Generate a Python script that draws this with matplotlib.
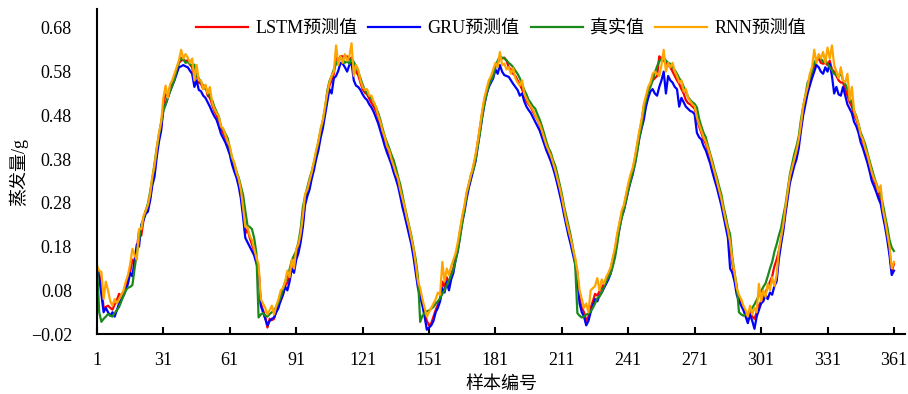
import numpy as np
import matplotlib
matplotlib.use("Agg")
import matplotlib.pyplot as plt

plt.rcParams["font.family"] = ["Liberation Serif", "Noto Sans CJK SC", "DejaVu Sans"]
plt.rcParams["axes.unicode_minus"] = True

# sample index 1..361
sample_no = np.arange(1, 362)

true_val = [
    0.140, 0.030, 0.008, 0.015, 0.020, 0.026, 0.022, 0.020, 0.028, 0.035,
    0.042, 0.055, 0.068, 0.080, 0.086, 0.088, 0.092, 0.130, 0.165, 0.195,
    0.225, 0.245, 0.262, 0.278, 0.305, 0.335, 0.370, 0.405, 0.435, 0.465,
    0.490, 0.505, 0.520, 0.535, 0.548, 0.562, 0.585, 0.602, 0.612, 0.608,
    0.600, 0.602, 0.598, 0.592, 0.596, 0.570, 0.565, 0.555, 0.548, 0.540,
    0.535, 0.522, 0.515, 0.500, 0.488, 0.478, 0.455, 0.448, 0.438, 0.428,
    0.405, 0.382, 0.370, 0.352, 0.338, 0.318, 0.298, 0.262, 0.228, 0.225,
    0.220, 0.200, 0.165, 0.018, 0.025, 0.028, 0.022, 0.020, 0.026, 0.030,
    0.035, 0.042, 0.052, 0.065, 0.082, 0.100, 0.112, 0.128, 0.148, 0.160,
    0.170, 0.190, 0.220, 0.270, 0.295, 0.315, 0.335, 0.352, 0.372, 0.395,
    0.420, 0.445, 0.468, 0.495, 0.535, 0.558, 0.570, 0.585, 0.598, 0.605,
    0.612, 0.608, 0.600, 0.604, 0.598, 0.610, 0.602, 0.592, 0.580, 0.565,
    0.550, 0.538, 0.530, 0.525, 0.518, 0.510, 0.498, 0.486, 0.470, 0.450,
    0.432, 0.418, 0.405, 0.390, 0.378, 0.360, 0.340, 0.322, 0.298, 0.272,
    0.250, 0.228, 0.205, 0.178, 0.150, 0.110, 0.008, 0.022, 0.028, 0.032,
    0.034, 0.038, 0.042, 0.050, 0.055, 0.062, 0.072, 0.080, 0.092, 0.102,
    0.115, 0.128, 0.148, 0.172, 0.200, 0.235, 0.265, 0.300, 0.322, 0.345,
    0.355, 0.378, 0.410, 0.440, 0.478, 0.505, 0.530, 0.548, 0.560, 0.570,
    0.590, 0.605, 0.615, 0.612, 0.610, 0.606, 0.600, 0.596, 0.590, 0.582,
    0.575, 0.565, 0.552, 0.538, 0.528, 0.515, 0.508, 0.500, 0.495, 0.482,
    0.470, 0.455, 0.438, 0.420, 0.405, 0.395, 0.378, 0.365, 0.345, 0.322,
    0.300, 0.272, 0.250, 0.228, 0.205, 0.178, 0.140, 0.028, 0.022, 0.018,
    0.020, 0.025, 0.026, 0.032, 0.040, 0.050, 0.062, 0.066, 0.075, 0.088,
    0.100, 0.110, 0.118, 0.135, 0.155, 0.185, 0.222, 0.245, 0.265, 0.285,
    0.310, 0.330, 0.350, 0.368, 0.395, 0.430, 0.455, 0.490, 0.515, 0.535,
    0.545, 0.560, 0.578, 0.592, 0.604, 0.608, 0.612, 0.605, 0.600, 0.598,
    0.590, 0.583, 0.575, 0.565, 0.558, 0.545, 0.535, 0.522, 0.515, 0.510,
    0.506, 0.498, 0.472, 0.455, 0.440, 0.430, 0.410, 0.392, 0.375, 0.355,
    0.338, 0.318, 0.300, 0.272, 0.250, 0.225, 0.208, 0.155, 0.120, 0.090,
    0.030, 0.025, 0.022, 0.024, 0.028, 0.033, 0.040, 0.048, 0.058, 0.068,
    0.078, 0.088, 0.096, 0.112, 0.130, 0.145, 0.168, 0.185, 0.205, 0.222,
    0.250, 0.275, 0.310, 0.345, 0.368, 0.392, 0.410, 0.432, 0.470, 0.500,
    0.525, 0.555, 0.565, 0.580, 0.600, 0.608, 0.615, 0.610, 0.602, 0.606,
    0.598, 0.590, 0.583, 0.575, 0.572, 0.568, 0.578, 0.560, 0.552, 0.540,
    0.520, 0.508, 0.490, 0.478, 0.460, 0.440, 0.428, 0.414, 0.395, 0.376,
    0.358, 0.340, 0.325, 0.310, 0.300, 0.277, 0.250, 0.225, 0.195, 0.178,
    0.170,
]

lstm_pred = [
    0.130, 0.118, 0.090, 0.040, 0.042, 0.045, 0.040, 0.036, 0.048, 0.058,
    0.072, 0.068, 0.075, 0.090, 0.105, 0.122, 0.150, 0.140, 0.175, 0.215,
    0.205, 0.240, 0.262, 0.270, 0.290, 0.330, 0.350, 0.395, 0.430, 0.455,
    0.505, 0.528, 0.525, 0.545, 0.555, 0.570, 0.580, 0.600, 0.605, 0.608,
    0.604, 0.606, 0.596, 0.590, 0.560, 0.575, 0.555, 0.552, 0.540, 0.548,
    0.525, 0.520, 0.505, 0.490, 0.480, 0.470, 0.448, 0.440, 0.428, 0.418,
    0.400, 0.378, 0.362, 0.345, 0.330, 0.300, 0.260, 0.210, 0.220, 0.200,
    0.185, 0.170, 0.150, 0.130, 0.050, 0.035, 0.020, -0.005, 0.015, 0.012,
    0.015, 0.035, 0.050, 0.055, 0.070, 0.090, 0.098, 0.115, 0.135, 0.140,
    0.162, 0.175, 0.200, 0.235, 0.290, 0.305, 0.320, 0.345, 0.365, 0.390,
    0.410, 0.440, 0.458, 0.490, 0.520, 0.548, 0.560, 0.575, 0.612, 0.605,
    0.615, 0.615, 0.612, 0.615, 0.608, 0.612, 0.590, 0.580, 0.572, 0.555,
    0.540, 0.532, 0.528, 0.518, 0.508, 0.500, 0.490, 0.475, 0.458, 0.440,
    0.422, 0.408, 0.395, 0.380, 0.362, 0.345, 0.330, 0.305, 0.280, 0.262,
    0.238, 0.215, 0.195, 0.168, 0.130, 0.095, 0.075, 0.055, 0.030, 0.010,
    0.000, 0.005, 0.020, 0.035, 0.048, 0.060, 0.100, 0.088, 0.110, 0.095,
    0.118, 0.130, 0.160, 0.180, 0.215, 0.245, 0.268, 0.300, 0.320, 0.340,
    0.362, 0.385, 0.418, 0.450, 0.485, 0.515, 0.535, 0.555, 0.565, 0.580,
    0.595, 0.600, 0.612, 0.610, 0.612, 0.605, 0.590, 0.585, 0.575, 0.570,
    0.560, 0.550, 0.540, 0.525, 0.512, 0.505, 0.498, 0.488, 0.478, 0.470,
    0.458, 0.440, 0.425, 0.410, 0.398, 0.385, 0.370, 0.352, 0.332, 0.310,
    0.288, 0.262, 0.238, 0.215, 0.195, 0.170, 0.150, 0.120, 0.060, 0.040,
    0.030, 0.010, 0.020, 0.040, 0.055, 0.072, 0.068, 0.078, 0.085, 0.095,
    0.105, 0.115, 0.128, 0.150, 0.172, 0.205, 0.230, 0.255, 0.270, 0.295,
    0.318, 0.338, 0.355, 0.380, 0.410, 0.440, 0.465, 0.500, 0.520, 0.540,
    0.550, 0.560, 0.565, 0.570, 0.615, 0.610, 0.605, 0.600, 0.595, 0.590,
    0.580, 0.570, 0.560, 0.552, 0.540, 0.530, 0.515, 0.508, 0.505, 0.500,
    0.495, 0.470, 0.455, 0.440, 0.425, 0.415, 0.400, 0.382, 0.362, 0.345,
    0.325, 0.305, 0.285, 0.260, 0.235, 0.212, 0.180, 0.140, 0.110, 0.080,
    0.060, 0.050, 0.040, 0.025, 0.010, 0.030, 0.020, 0.015, 0.030, 0.045,
    0.055, 0.062, 0.075, 0.088, 0.100, 0.112, 0.135, 0.150, 0.170, 0.195,
    0.225, 0.262, 0.300, 0.335, 0.355, 0.375, 0.395, 0.420, 0.455, 0.490,
    0.515, 0.540, 0.558, 0.575, 0.590, 0.605, 0.610, 0.600, 0.598, 0.600,
    0.595, 0.605, 0.585, 0.580, 0.570, 0.560, 0.555, 0.555, 0.540, 0.525,
    0.510, 0.500, 0.480, 0.470, 0.455, 0.430, 0.420, 0.400, 0.385, 0.365,
    0.345, 0.330, 0.318, 0.300, 0.285, 0.262, 0.232, 0.205, 0.170, 0.125,
    0.140,
]

gru_pred = [
    0.125, 0.110, 0.070, 0.030, 0.040, 0.030, 0.022, 0.030, 0.020, 0.035,
    0.050, 0.060, 0.068, 0.080, 0.095, 0.120, 0.112, 0.150, 0.185, 0.180,
    0.230, 0.240, 0.255, 0.260, 0.285, 0.320, 0.340, 0.385, 0.420, 0.445,
    0.495, 0.505, 0.520, 0.535, 0.548, 0.560, 0.575, 0.590, 0.592, 0.595,
    0.592, 0.590, 0.582, 0.575, 0.545, 0.560, 0.538, 0.535, 0.525, 0.520,
    0.510, 0.500, 0.488, 0.478, 0.470, 0.455, 0.438, 0.428, 0.418, 0.405,
    0.390, 0.368, 0.352, 0.338, 0.318, 0.290, 0.248, 0.200, 0.190, 0.180,
    0.170, 0.160, 0.142, 0.125, 0.045, 0.030, 0.015, 0.000, 0.010, 0.015,
    0.018, 0.030, 0.040, 0.058, 0.070, 0.088, 0.080, 0.100, 0.130, 0.120,
    0.150, 0.165, 0.190, 0.225, 0.275, 0.295, 0.310, 0.335, 0.355, 0.380,
    0.400, 0.428, 0.450, 0.480, 0.510, 0.540, 0.530, 0.565, 0.570, 0.582,
    0.600, 0.598, 0.590, 0.580, 0.595, 0.600, 0.560, 0.548, 0.545, 0.538,
    0.528, 0.520, 0.515, 0.505, 0.498, 0.488, 0.475, 0.462, 0.445, 0.428,
    0.410, 0.395, 0.382, 0.368, 0.350, 0.335, 0.318, 0.295, 0.270, 0.250,
    0.228, 0.205, 0.185, 0.155, 0.120, 0.085, 0.065, 0.045, 0.020, -0.010,
    -0.005, 0.000, 0.010, 0.030, 0.040, 0.055, 0.085, 0.075, 0.100, 0.080,
    0.105, 0.120, 0.150, 0.170, 0.205, 0.235, 0.260, 0.290, 0.315, 0.335,
    0.355, 0.375, 0.408, 0.440, 0.475, 0.505, 0.528, 0.545, 0.555, 0.565,
    0.585, 0.575, 0.595, 0.580, 0.572, 0.570, 0.568, 0.560, 0.552, 0.545,
    0.538, 0.525, 0.530, 0.512, 0.500, 0.492, 0.485, 0.475, 0.465, 0.455,
    0.445, 0.430, 0.415, 0.400, 0.388, 0.375, 0.360, 0.342, 0.322, 0.300,
    0.278, 0.252, 0.228, 0.205, 0.185, 0.162, 0.140, 0.110, 0.050, 0.030,
    0.020, 0.000, 0.010, 0.030, 0.045, 0.060, 0.055, 0.068, 0.075, 0.085,
    0.095, 0.105, 0.118, 0.140, 0.162, 0.195, 0.220, 0.248, 0.262, 0.285,
    0.308, 0.328, 0.345, 0.370, 0.400, 0.428, 0.450, 0.470, 0.500, 0.520,
    0.535, 0.540, 0.530, 0.525, 0.545, 0.560, 0.580, 0.530, 0.570, 0.560,
    0.555, 0.545, 0.540, 0.500, 0.520, 0.510, 0.500, 0.495, 0.490, 0.488,
    0.482, 0.440, 0.430, 0.425, 0.410, 0.400, 0.385, 0.370, 0.350, 0.332,
    0.315, 0.295, 0.275, 0.250, 0.225, 0.200, 0.130, 0.120, 0.100, 0.070,
    0.055, 0.045, 0.035, 0.020, 0.005, 0.025, 0.010, -0.008, 0.020, 0.035,
    0.050, 0.055, 0.070, 0.060, 0.075, 0.070, 0.090, 0.100, 0.150, 0.185,
    0.215, 0.255, 0.290, 0.325, 0.345, 0.365, 0.380, 0.405, 0.445, 0.480,
    0.505, 0.530, 0.548, 0.565, 0.580, 0.595, 0.590, 0.580, 0.575, 0.590,
    0.580, 0.598, 0.570, 0.530, 0.545, 0.528, 0.525, 0.545, 0.525, 0.505,
    0.495, 0.485, 0.465, 0.455, 0.440, 0.418, 0.405, 0.388, 0.372, 0.352,
    0.330, 0.318, 0.305, 0.290, 0.278, 0.250, 0.225, 0.195, 0.160, 0.115,
    0.125,
]

rnn_pred = [
    0.135, 0.125, 0.122, 0.060, 0.100, 0.080, 0.055, 0.045, 0.060, 0.050,
    0.060, 0.070, 0.080, 0.100, 0.115, 0.140, 0.175, 0.160, 0.150, 0.220,
    0.220, 0.250, 0.262, 0.275, 0.300, 0.340, 0.365, 0.405, 0.440, 0.465,
    0.520, 0.548, 0.520, 0.550, 0.560, 0.575, 0.590, 0.605, 0.630, 0.610,
    0.620, 0.612, 0.600, 0.610, 0.560, 0.595, 0.560, 0.560, 0.540, 0.550,
    0.530, 0.545, 0.510, 0.495, 0.485, 0.478, 0.455, 0.450, 0.435, 0.420,
    0.410, 0.385, 0.372, 0.350, 0.335, 0.310, 0.270, 0.225, 0.225, 0.205,
    0.195, 0.175, 0.155, 0.140, 0.060, 0.050, 0.040, 0.025, 0.035, 0.045,
    0.025, 0.045, 0.060, 0.080, 0.085, 0.100, 0.125, 0.110, 0.150, 0.130,
    0.175, 0.185, 0.210, 0.250, 0.300, 0.310, 0.330, 0.350, 0.375, 0.400,
    0.420, 0.450, 0.468, 0.500, 0.530, 0.555, 0.570, 0.580, 0.640, 0.595,
    0.615, 0.600, 0.620, 0.605, 0.615, 0.645, 0.570, 0.595, 0.585, 0.560,
    0.545, 0.538, 0.540, 0.525, 0.525, 0.510, 0.500, 0.480, 0.465, 0.445,
    0.430, 0.410, 0.400, 0.380, 0.365, 0.348, 0.335, 0.310, 0.290, 0.270,
    0.245, 0.225, 0.200, 0.175, 0.140, 0.100, 0.085, 0.060, 0.040, 0.020,
    0.030, 0.040, 0.050, 0.060, 0.075, 0.070, 0.145, 0.100, 0.130, 0.115,
    0.135, 0.150, 0.165, 0.190, 0.220, 0.250, 0.275, 0.305, 0.325, 0.345,
    0.365, 0.390, 0.420, 0.455, 0.490, 0.520, 0.540, 0.560, 0.570, 0.585,
    0.600, 0.590, 0.625, 0.595, 0.598, 0.585, 0.590, 0.575, 0.588, 0.565,
    0.555, 0.548, 0.560, 0.530, 0.518, 0.508, 0.500, 0.492, 0.480, 0.470,
    0.460, 0.445, 0.428, 0.412, 0.400, 0.388, 0.372, 0.355, 0.335, 0.315,
    0.292, 0.265, 0.240, 0.218, 0.198, 0.175, 0.155, 0.125, 0.080, 0.060,
    0.040, 0.050, 0.030, 0.080, 0.085, 0.090, 0.108, 0.080, 0.105, 0.095,
    0.110, 0.120, 0.132, 0.155, 0.178, 0.210, 0.235, 0.262, 0.275, 0.300,
    0.325, 0.345, 0.360, 0.385, 0.415, 0.445, 0.470, 0.505, 0.525, 0.545,
    0.555, 0.575, 0.580, 0.575, 0.570, 0.595, 0.630, 0.580, 0.600, 0.590,
    0.600, 0.580, 0.570, 0.555, 0.560, 0.535, 0.540, 0.520, 0.512, 0.505,
    0.500, 0.475, 0.460, 0.445, 0.430, 0.420, 0.405, 0.388, 0.368, 0.350,
    0.330, 0.310, 0.290, 0.265, 0.240, 0.218, 0.190, 0.150, 0.120, 0.085,
    0.070, 0.060, 0.045, 0.035, 0.020, 0.045, 0.025, 0.040, 0.030, 0.095,
    0.055, 0.080, 0.065, 0.095, 0.080, 0.110, 0.090, 0.115, 0.170, 0.200,
    0.230, 0.270, 0.305, 0.340, 0.360, 0.380, 0.400, 0.425, 0.460, 0.500,
    0.525, 0.545, 0.575, 0.590, 0.630, 0.600, 0.620, 0.610, 0.625, 0.600,
    0.635, 0.610, 0.640, 0.595, 0.580, 0.565, 0.590, 0.560, 0.555, 0.575,
    0.515, 0.545, 0.490, 0.475, 0.460, 0.435, 0.425, 0.405, 0.390, 0.370,
    0.350, 0.335, 0.325, 0.305, 0.320, 0.265, 0.240, 0.210, 0.180, 0.130,
    0.145,
]

x_ticks = [1, 31, 61, 91, 121, 151, 181, 211, 241, 271, 301, 331, 361]
y_ticks = [-0.02, 0.08, 0.18, 0.28, 0.38, 0.48, 0.58, 0.68]

fig = plt.figure(figsize=(9.08, 3.94), dpi=100)
ax = fig.add_axes([0.1068, 0.152, 0.8899, 0.825])

lw = 1.6
ax.plot(sample_no, lstm_pred, color="#ff0000", lw=lw, label="LSTM预测值")
ax.plot(sample_no, gru_pred, color="#0000ff", lw=lw, label="GRU预测值")
ax.plot(sample_no, true_val, color="#1a8a1a", lw=lw, label="真实值")
ax.plot(sample_no, rnn_pred, color="#ffa500", lw=lw, label="RNN预测值")

ax.set_xlim(1, 366)
ax.set_ylim(-0.02, 0.723)
ax.set_xticks(x_ticks)
ax.set_yticks(y_ticks)
ax.set_yticklabels([f"{v:.2f}".replace("-", "\u2212") for v in y_ticks])

for s in ["top", "right"]:
    ax.spines[s].set_visible(False)
for s in ["left", "bottom"]:
    ax.spines[s].set_linewidth(1.5)

ax.tick_params(axis="x", direction="in", length=5, width=1.5, labelsize=13, pad=13)
ax.tick_params(axis="y", length=0, labelsize=13, pad=18)

ax.set_xlabel("样本编号", fontsize=13, labelpad=5)
ax.set_ylabel("蒸发量/g", fontsize=13, labelpad=2)

ax.legend(loc="center", bbox_to_anchor=(0.5, 0.94), ncol=4, frameon=False,
          fontsize=13, handlelength=2.9, columnspacing=0.6, handletextpad=0.4)

fig.savefig("out.png", dpi=100)
